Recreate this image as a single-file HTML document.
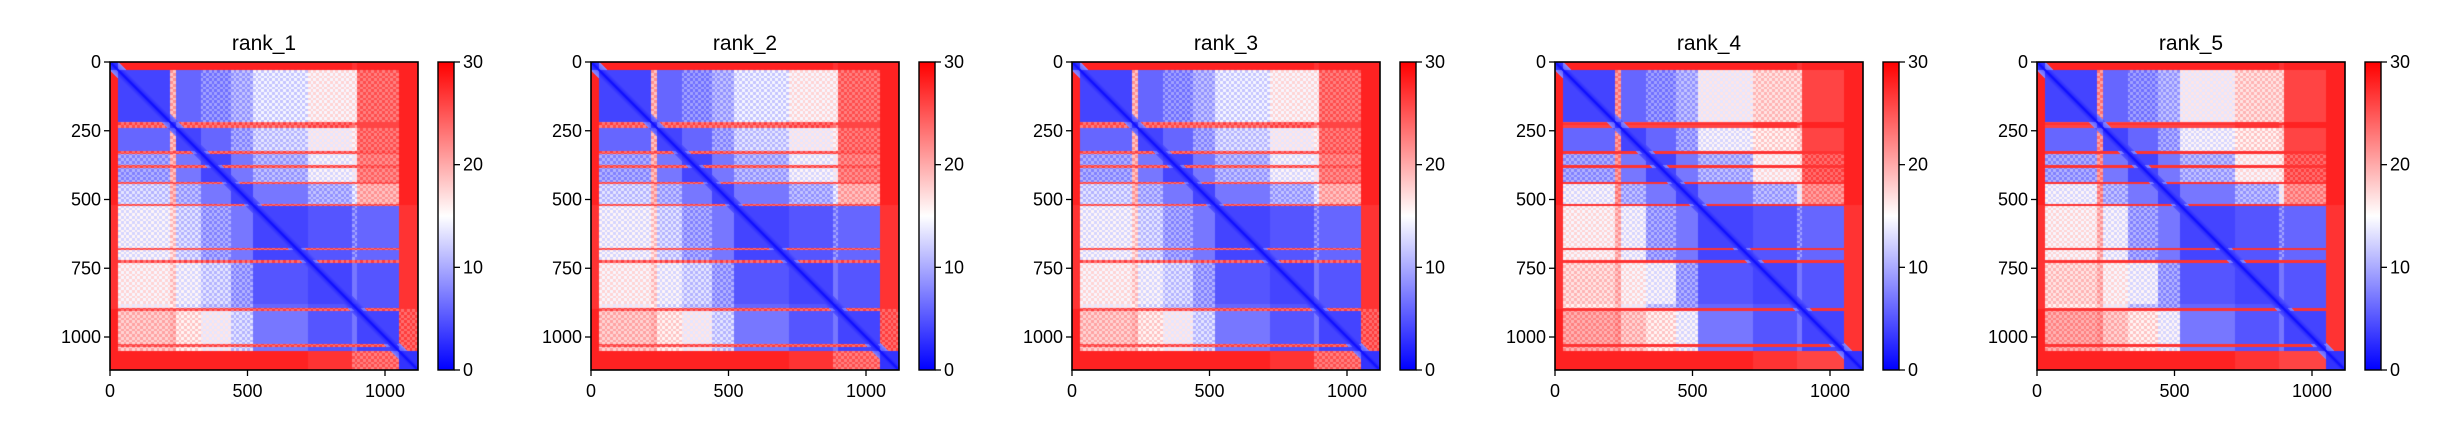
<!DOCTYPE html>
<html><head><meta charset="utf-8">
<style>
html,body{margin:0;padding:0;background:#fff;}
#root{position:relative;width:2452px;height:438px;overflow:hidden;font-family:"Liberation Sans","DejaVu Sans",sans-serif;}
canvas{position:absolute;}
svg{position:absolute;left:0;top:0;}
</style></head>
<body>
<div id="root">
<svg id="svg" width="2452" height="438"></svg>
</div>
<script>
// ---- data ----
const titles = ["rank_1","rank_2","rank_3","rank_4","rank_5"];
const nRes = 1120;
const blockStarts = [0, 30, 220, 240, 330, 440, 520, 720, 880, 900, 1050];
const blockEnds   = [30, 220, 240, 330, 440, 520, 720, 880, 900, 1050, 1120];
// rows = residue i (y), cols = residue j (x)
const blockDist = [
 [3,28,28,28,28,28,28,28,27,28,28],
 [28,4,20,6,8,10,13,16,16,24,28],
 [28,24,4,24,24,24,24,25,22,26,28],
 [28,6,20,4,6,9,12,15,16,24,28],
 [28,9,20,7,4,7,10,14,15,23,28],
 [28,12,20,10,7,4,7,10,13,20,28],
 [27,14,18,12,9,7,4,5,8,6,27],
 [27,16,18,14,12,9,5,4,7,5,27],
 [27,15,17,13,11,9,6,5,4,5,27],
 [28,19,20,17,15,12,7,5,7,4,25],
 [28,28,28,28,28,28,28,27,24,24,3]
];
const redLines = [225, 330, 380, 440, 520, 680, 725, 900, 1030];
const rankFarOffset = [0, 0, 0, 2, 2];
const yTicks = [0, 250, 500, 750, 1000];
const xTicks = [0, 500, 1000];
const cbTicks = [0, 10, 20, 30];
const vmax = 30;

// ---- layout ----
const panelLeft = [110, 591, 1072, 1555, 2037];
const axTop = 62, axSize = 308;
const cbOffset = 328, cbW = 16;
const svg = document.getElementById('svg');
const root = document.getElementById('root');
const NS = "http://www.w3.org/2000/svg";
function mk(tag, attrs){const e=document.createElementNS(NS,tag);for(const k in attrs)e.setAttribute(k,attrs[k]);return e;}
function bwr(v){
  let t=Math.max(0,Math.min(1,v/vmax));
  if(t<0.5){const s=t/0.5;return [Math.round(255*s),Math.round(255*s),255];}
  const s=(t-0.5)/0.5;return [255,Math.round(255*(1-s)),Math.round(255*(1-s))];
}
function blockOf(r){for(let b=0;b<blockStarts.length;b++){if(r>=blockStarts[b]&&r<blockEnds[b])return b;}return blockStarts.length-1;}
function isRedLine(r){for(const l of redLines){if(Math.abs(r-l)<5)return true;}return false;}
function dist(i,j,rank){
  const d=Math.abs(i-j);
  if(d<6) return 1;
  const bi=blockOf(i), bj=blockOf(j);
  let v=blockDist[bi][bj];
  if(isRedLine(i) && d>15) v=Math.max(v,25);
  if(v>=12 && v<27) v+=rankFarOffset[rank];
  const tex=(((Math.floor(i/10)+Math.floor(j/10))%2)?1.5:-1.5);
  if(v>7&&v<26) v+=tex;
  if(d<30) v=Math.min(v,1+d*0.1+v*0.15);
  return v;
}
const sx = u => axSize*u/nRes;

titles.forEach((title,p)=>{
  const L=panelLeft[p];
  const cv=document.createElement('canvas');
  cv.width=axSize;cv.height=axSize;
  cv.style.left=L+'px';cv.style.top=axTop+'px';
  
  
  root.insertBefore(cv,svg);
  const ctx=cv.getContext('2d');
  const img=ctx.createImageData(axSize,axSize);
  for(let y=0;y<axSize;y++){
    const i=(y+0.5)*nRes/axSize;
    for(let x=0;x<axSize;x++){
      const j=(x+0.5)*nRes/axSize;
      const c=bwr(dist(i,j,p));
      const k=(y*axSize+x)*4;
      img.data[k]=c[0];img.data[k+1]=c[1];img.data[k+2]=c[2];img.data[k+3]=255;
    }
  }
  ctx.putImageData(img,0,0);

  const g=mk('g',{});
  
  
  svg.appendChild(g);
  const fr=mk('rect',{x:L,y:axTop,width:axSize,height:axSize,fill:'none',stroke:'#000','stroke-width':1.6});
  
  
  g.appendChild(fr);
  const tt=mk('text',{x:L+axSize/2,y:axTop-12,'text-anchor':'middle','font-size':21,fill:'#000'});
  tt.textContent=title;
  
  
  g.appendChild(tt);
  yTicks.forEach(v=>{
    const y=axTop+sx(v);
    g.appendChild(mk('line',{x1:L-6,x2:L,y1:y,y2:y,stroke:'#000','stroke-width':1.3}));
    const t=mk('text',{x:L-9,y:y+6,'text-anchor':'end','font-size':18,fill:'#000'});
    t.textContent=v;
    
    
    g.appendChild(t);
  });
  xTicks.forEach(v=>{
    const x=L+sx(v);
    g.appendChild(mk('line',{x1:x,x2:x,y1:axTop+axSize,y2:axTop+axSize+6,stroke:'#000','stroke-width':1.3}));
    const t=mk('text',{x:x,y:axTop+axSize+27,'text-anchor':'middle','font-size':18,fill:'#000'});
    t.textContent=v;
    
    
    g.appendChild(t);
  });
  const cx=L+cbOffset;
  const gid='cbg'+p;
  const defs=mk('defs',{});
  const lg=mk('linearGradient',{id:gid,x1:0,y1:1,x2:0,y2:0});
  [[0,'#0000ff'],[0.5,'#ffffff'],[1,'#ff0000']].forEach(s=>lg.appendChild(mk('stop',{offset:s[0],'stop-color':s[1]})));
  defs.appendChild(lg);g.appendChild(defs);
  const cb=mk('rect',{x:cx,y:axTop,width:cbW,height:axSize,fill:'url(#'+gid+')',stroke:'#000','stroke-width':1.4});
  
  
  g.appendChild(cb);
  cbTicks.forEach(v=>{
    const y=axTop+axSize-axSize*v/vmax;
    g.appendChild(mk('line',{x1:cx+cbW,x2:cx+cbW+6,y1:y,y2:y,stroke:'#000','stroke-width':1.3}));
    const t=mk('text',{x:cx+cbW+9,y:y+6,'text-anchor':'start','font-size':18,fill:'#000'});
    t.textContent=v;
    
    
    g.appendChild(t);
  });
});
</script>
</body></html>
